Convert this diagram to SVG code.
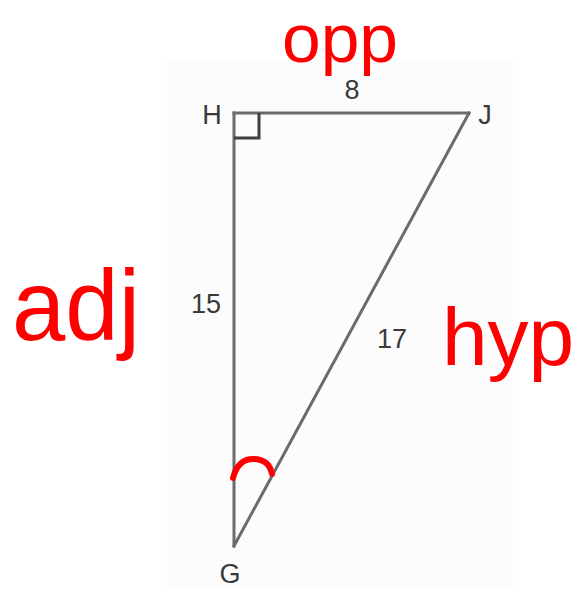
<svg xmlns="http://www.w3.org/2000/svg" width="579" height="589" viewBox="0 0 579 589">
<style>
.edge{stroke:#6b6b6b;stroke-width:3;fill:none;stroke-linecap:square}
.lbl{font-family:"Liberation Sans",Arial,sans-serif;font-size:27px;fill:#3a3a3a;text-anchor:middle}
.hand{font-family:"Liberation Sans",Arial,sans-serif;fill:#ff0000}
.mark{stroke:#ff0000;stroke-width:6;fill:none;stroke-linecap:round}
</style>
<rect x="0" y="0" width="579" height="589" fill="#ffffff"/>
<rect x="167" y="58" width="346" height="531" fill="#fcfcfc"/>
<g id="connectors">
<line id="edge-HJ" class="edge" x1="234" y1="113" x2="469" y2="113"/>
<line id="edge-HG" class="edge" x1="234" y1="113" x2="234" y2="546"/>
<line id="edge-JG" class="edge" x1="469" y1="113" x2="234" y2="546"/>
<polyline id="right-angle" points="234,138 259,138 259,113" fill="none" stroke="#3f3f3f" stroke-width="3"/>
<path id="angle-G" class="mark" d="M233,478 Q238,459 253,459 Q269,459 272,474"/>
<text class="lbl" x="352" y="99">8</text>
<text class="lbl" x="206" y="313">15</text>
<text class="lbl" x="392" y="348">17</text>
</g>
<g id="node-H"><text class="lbl" x="212" y="124">H</text></g>
<g id="node-J"><text class="lbl" x="485" y="124">J</text></g>
<g id="node-G"><text class="lbl" x="230" y="583">G</text></g>
<g id="annotations">
<text class="hand" x="282" y="62" font-size="68" textLength="116" lengthAdjust="spacingAndGlyphs">opp</text>
<text class="hand" x="12" y="340" font-size="100" textLength="128" lengthAdjust="spacingAndGlyphs">adj</text>
<text class="hand" x="442" y="365" font-size="82">hyp</text>
</g>
</svg>
